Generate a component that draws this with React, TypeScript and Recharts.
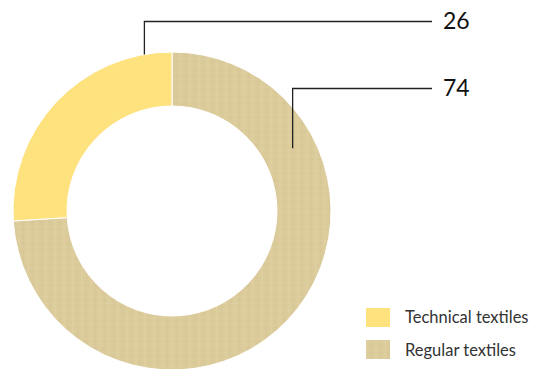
import { PieChart, Pie, Cell, Legend } from "recharts";

const categories = ["Regular textiles", "Technical textiles"];
const shares = [74, 26];
const legendOrder = ["Technical textiles", "Regular textiles"];

const YELLOW = "#FEE27E";
const BEIGE = "#DBCA9A";
const FONT = "Lato, 'Open Sans', sans-serif";
const RAD = Math.PI / 180;

const fills: Record<string, string> = {
  "Technical textiles": YELLOW,
  "Regular textiles": "url(#linen)",
};

// where each leader line leaves the ring (polar angle, radius) and the row it runs on
const leaders: Record<string, { angle: number; r: number; y: number }> = {
  "Technical textiles": { angle: 100, r: 159, y: 21.5 },
  "Regular textiles": { angle: 27.5, r: 136, y: 88.5 },
};
const LINE_END = 432;

const data = categories.map((name, i) => ({ name, value: shares[i] }));

// soft woven look, low contrast so it reads as a fabric rather than a grid
function LinenDefs() {
  return (
    <defs>
      <pattern id="linen" width="9" height="7" patternUnits="userSpaceOnUse">
        <rect width="9" height="7" fill={BEIGE} />
        <rect x="0" y="0" width="2" height="7" fill="#E3D5A7" opacity={0.35} />
        <rect x="5" y="0" width="1" height="7" fill="#D1C08F" opacity={0.3} />
        <rect x="0" y="2" width="9" height="1" fill="#E5D8AC" opacity={0.25} />
        <rect x="3" y="5" width="4" height="1" fill="#D3C292" opacity={0.3} />
      </pattern>
    </defs>
  );
}

function LeaderLabel(props: any) {
  const { cx, cy, name, value } = props;
  const l = leaders[name];
  if (!l) return null;
  const ax = cx + l.r * Math.cos(-l.angle * RAD);
  const ay = cy + l.r * Math.sin(-l.angle * RAD);
  return (
    <g>
      <path
        d={`M${ax},${ay} L${ax},${l.y} L${LINE_END},${l.y}`}
        fill="none"
        stroke="#222"
        strokeWidth={1.3}
      />
      <text
        x={LINE_END + 11}
        y={l.y + 2}
        dominantBaseline="middle"
        fill="#111"
        fontSize={23}
        fontFamily={FONT}
      >
        {value}
      </text>
    </g>
  );
}

function LegendBox() {
  return (
    <div style={{ fontFamily: FONT, fontSize: 16.5, color: "#333" }}>
      {legendOrder.map((name) => (
        <div key={name} style={{ display: "flex", alignItems: "center", height: 32.5 }}>
          <svg width={24} height={19} style={{ marginRight: 15 }}>
            <LinenDefs />
            <rect width={24} height={19} fill={fills[name]} />
          </svg>
          <span>{name}</span>
        </div>
      ))}
    </div>
  );
}

export default function App() {
  return (
    <div style={{ position: "fixed", left: 0, top: 0, width: 539, height: 369, background: "#fff" }}>
      <PieChart width={539} height={369} margin={{ top: 0, right: 0, bottom: 0, left: 0 }}>
        <LinenDefs />
        <Pie
          data={data}
          dataKey="value"
          nameKey="name"
          cx={172}
          cy={211}
          innerRadius={105}
          outerRadius={159}
          startAngle={90}
          endAngle={-270}
          stroke="#fff"
          strokeWidth={1}
          label={LeaderLabel}
          labelLine={false}
          isAnimationActive={false}
        >
          {data.map((d) => (
            <Cell key={d.name} fill={fills[d.name]} />
          ))}
        </Pie>
        <Legend
          layout="vertical"
          content={() => <LegendBox />}
          wrapperStyle={{ left: 366, top: 301, width: 172 }}
        />
      </PieChart>
    </div>
  );
}
